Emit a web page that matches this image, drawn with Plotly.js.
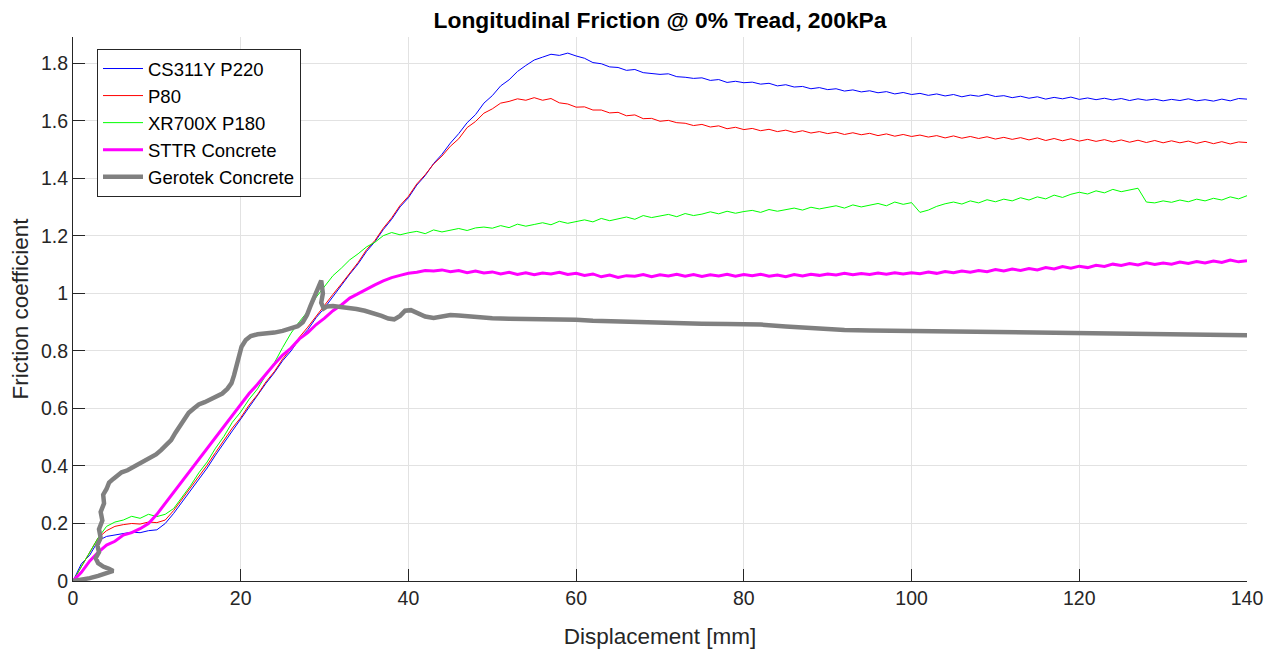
<!DOCTYPE html>
<html>
<head>
<meta charset="utf-8">
<script src="https://cdn.plot.ly/plotly-3.0.1.min.js"></script>
<style>html,body{margin:0;padding:0;background:#fff;}#chart{width:1276px;height:652px;}</style>
</head>
<body>
<div id="chart"></div>
<script>
// Displacement [mm] sample positions for the four lab-recorded series
const X_MM = [];
for (let i = 0; i <= 140; i++) X_MM.push(i);

const SERIES_NAMES = ["CS311Y P220", "P80", "XR700X P180", "STTR Concrete", "Gerotek Concrete"];

const CS311Y_P220 = [
  0, 0.06, 0.09, 0.14, 0.155, 0.16, 0.165, 0.17, 0.168, 0.175, 0.178,
  0.2, 0.235, 0.275, 0.312, 0.355, 0.393, 0.438, 0.478, 0.522, 0.563,
  0.605, 0.643, 0.687, 0.724, 0.766, 0.8, 0.842, 0.874, 0.916, 0.95,
  0.99, 1.028, 1.067, 1.103, 1.146, 1.18, 1.222, 1.258, 1.301, 1.333,
  1.377, 1.41, 1.452, 1.484, 1.523, 1.556, 1.594, 1.622, 1.662, 1.688,
  1.722, 1.743, 1.772, 1.793, 1.812, 1.822, 1.832, 1.828, 1.836, 1.826,
  1.818, 1.803, 1.799, 1.788, 1.786, 1.776, 1.779, 1.768, 1.766, 1.762,
  1.764, 1.754, 1.752, 1.748, 1.75, 1.741, 1.744, 1.734, 1.738, 1.733,
  1.735, 1.728, 1.731, 1.722, 1.726, 1.718, 1.72, 1.712, 1.716, 1.709,
  1.712, 1.704, 1.708, 1.701, 1.705, 1.698, 1.702, 1.694, 1.699, 1.692,
  1.696, 1.689, 1.694, 1.687, 1.692, 1.684, 1.69, 1.686, 1.693, 1.685,
  1.688, 1.681, 1.686, 1.679, 1.684, 1.676, 1.682, 1.677, 1.683, 1.675,
  1.68, 1.674, 1.679, 1.673, 1.678, 1.671, 1.677, 1.672, 1.676, 1.67,
  1.675, 1.671, 1.677, 1.67, 1.674, 1.669, 1.676, 1.67, 1.678, 1.676
];

const P80 = [
  0, 0.05, 0.1, 0.15, 0.175, 0.19, 0.196, 0.2, 0.198, 0.205, 0.203,
  0.212, 0.245, 0.285, 0.322, 0.366, 0.403, 0.447, 0.488, 0.532, 0.568,
  0.612, 0.648, 0.692, 0.728, 0.772, 0.808, 0.848, 0.883, 0.922, 0.958,
  0.997, 1.033, 1.072, 1.108, 1.152, 1.184, 1.227, 1.263, 1.306, 1.338,
  1.381, 1.413, 1.45, 1.478, 1.512, 1.538, 1.577, 1.598, 1.627, 1.642,
  1.662, 1.668, 1.677, 1.672, 1.681, 1.672, 1.678, 1.663, 1.659, 1.648,
  1.649, 1.638, 1.638, 1.628, 1.63, 1.618, 1.621, 1.608, 1.609, 1.599,
  1.602, 1.594, 1.592, 1.584, 1.588, 1.579, 1.583, 1.573, 1.578, 1.57,
  1.574, 1.566, 1.571, 1.563, 1.568, 1.56, 1.566, 1.558, 1.563, 1.556,
  1.561, 1.553, 1.559, 1.552, 1.557, 1.549, 1.555, 1.547, 1.553, 1.546,
  1.551, 1.544, 1.549, 1.541, 1.548, 1.54, 1.546, 1.539, 1.545, 1.537,
  1.543, 1.536, 1.542, 1.534, 1.541, 1.532, 1.539, 1.531, 1.538, 1.53,
  1.536, 1.529, 1.535, 1.527, 1.534, 1.526, 1.533, 1.525, 1.532, 1.524,
  1.531, 1.524, 1.53, 1.522, 1.529, 1.521, 1.528, 1.52, 1.527, 1.525
];

const XR700X_P180 = [
  0, 0.05, 0.1, 0.15, 0.19, 0.205, 0.212, 0.225, 0.218, 0.232, 0.224,
  0.232, 0.252, 0.292, 0.331, 0.376, 0.414, 0.462, 0.503, 0.552, 0.588,
  0.632, 0.668, 0.716, 0.758, 0.812, 0.862, 0.902, 0.938, 0.987, 1.024,
  1.062, 1.088, 1.117, 1.138, 1.162, 1.178, 1.201, 1.212, 1.204, 1.211,
  1.216, 1.208, 1.221, 1.214, 1.22, 1.226, 1.219, 1.228, 1.231, 1.227,
  1.236, 1.229, 1.241, 1.234, 1.24, 1.246, 1.239, 1.251, 1.244, 1.25,
  1.256, 1.249, 1.261, 1.253, 1.259, 1.266, 1.258, 1.271, 1.264, 1.27,
  1.275, 1.267, 1.278, 1.271, 1.276, 1.284, 1.277, 1.286, 1.279, 1.285,
  1.289, 1.282, 1.292, 1.286, 1.291, 1.297, 1.29, 1.3, 1.294, 1.299,
  1.305, 1.297, 1.308, 1.301, 1.307, 1.313, 1.305, 1.318, 1.31, 1.316,
  1.282, 1.29, 1.303, 1.312, 1.318, 1.311, 1.322, 1.315, 1.326, 1.319,
  1.328, 1.322, 1.333, 1.325, 1.336, 1.329, 1.342, 1.334, 1.345, 1.352,
  1.346, 1.357, 1.35, 1.362, 1.354, 1.36, 1.366, 1.318, 1.315, 1.322,
  1.317, 1.325, 1.319, 1.328, 1.322, 1.331, 1.325, 1.336, 1.329, 1.34
];

const STTR_CONCRETE = [
  0, 0.03, 0.07, 0.1, 0.125, 0.138, 0.16, 0.168, 0.182, 0.2, 0.232,
  0.27, 0.308, 0.347, 0.384, 0.422, 0.458, 0.497, 0.535, 0.574, 0.612,
  0.652, 0.684, 0.721, 0.754, 0.786, 0.81, 0.842, 0.864, 0.892, 0.914,
  0.94, 0.96, 0.984, 1.0, 1.016, 1.03, 1.044, 1.055, 1.063, 1.07,
  1.074, 1.08, 1.078, 1.082, 1.076, 1.08, 1.072, 1.078, 1.071, 1.075,
  1.068, 1.074, 1.066, 1.072, 1.065, 1.071, 1.068, 1.074, 1.066, 1.07,
  1.063, 1.068, 1.058, 1.064, 1.056, 1.062, 1.06, 1.066, 1.058, 1.065,
  1.061, 1.067, 1.06, 1.066, 1.059, 1.065, 1.061, 1.067, 1.06, 1.066,
  1.062, 1.067, 1.06, 1.064, 1.058, 1.066, 1.061, 1.067, 1.063, 1.068,
  1.064, 1.07, 1.065, 1.069, 1.066, 1.071, 1.067, 1.072, 1.068, 1.072,
  1.069, 1.075, 1.07, 1.076, 1.072, 1.078, 1.074, 1.08, 1.076, 1.083,
  1.078, 1.085, 1.08, 1.087, 1.082, 1.09, 1.085, 1.094, 1.088, 1.095,
  1.09, 1.098, 1.094, 1.102, 1.097, 1.104, 1.099, 1.107, 1.101, 1.106,
  1.102, 1.109, 1.104, 1.111, 1.106, 1.113, 1.108, 1.116, 1.11, 1.114
];

// Gerotek trace doubles back near the start, so it has its own x samples
const GEROTEK_X = [
  0, 1, 2, 3, 4, 4.8, 4.3, 3.6, 3.0, 2.7, 3.1, 2.9, 3.3, 3.1, 3.5, 3.3, 3.7, 3.6, 4.0, 4.3,
  4.8, 5.3, 5.8, 6.5, 7.2, 7.8, 8.5, 9.2, 9.9, 10.5, 11.1, 11.7, 12.2, 12.8, 13.3, 13.8, 14.4, 15.0, 15.7, 16.4,
  17.1, 17.8, 18.4, 18.9, 19.2, 19.5, 19.8, 20.1, 20.6, 21.2, 22.0, 23.0, 24.0, 25.0, 26.0, 26.8, 27.4, 27.9, 28.3, 28.7,
  29.1, 29.4, 29.6, 29.8, 29.6, 29.9, 30.3, 31.0, 31.8, 32.8, 33.8, 34.8, 35.8, 36.8, 37.6, 38.3, 39.0, 39.6, 40.3, 41.0,
  42.0, 43.0, 44.0, 45.0, 46.0, 47.0, 48.5, 50, 52, 55, 58, 60, 62, 65, 68, 70, 72, 75, 78, 80,
  82, 85, 88, 90, 92, 95, 98, 100, 105, 110, 115, 120, 125, 130, 135, 140
];
const GEROTEK_CONCRETE = [
  0, 0.004, 0.01, 0.018, 0.028, 0.035, 0.042, 0.05, 0.062, 0.08, 0.1, 0.125, 0.15, 0.18, 0.21, 0.24, 0.27, 0.3, 0.32, 0.342,
  0.355, 0.368, 0.378, 0.385, 0.396, 0.405, 0.415, 0.428, 0.44, 0.455, 0.47, 0.49, 0.515, 0.54, 0.565, 0.585, 0.6, 0.614, 0.622, 0.632,
  0.642, 0.652, 0.668, 0.688, 0.715, 0.75, 0.79, 0.815, 0.838, 0.852, 0.858, 0.86, 0.864, 0.87, 0.878, 0.886, 0.9, 0.925, 0.955, 0.985,
  1.015, 1.04, 1.045, 1.0, 0.968, 0.948, 0.955, 0.956, 0.954, 0.95, 0.946, 0.94, 0.932, 0.922, 0.913, 0.91, 0.922, 0.94, 0.942, 0.932,
  0.92, 0.915, 0.919, 0.925, 0.923, 0.92, 0.917, 0.914, 0.912, 0.912, 0.91, 0.909, 0.905, 0.902, 0.9, 0.899, 0.895, 0.895, 0.894, 0.893,
  0.892, 0.885, 0.879, 0.876, 0.873, 0.871, 0.87, 0.87, 0.868, 0.866, 0.863, 0.861, 0.86, 0.859, 0.858, 0.855
];

const X_TICKS = [0, 20, 40, 60, 80, 100, 120, 140];
const Y_TICKS = [0, 0.2, 0.4, 0.6, 0.8, 1, 1.2, 1.4, 1.6, 1.8];
const Y_TICK_LABELS = ["0", "0.2", "0.4", "0.6", "0.8", "1", "1.2", "1.4", "1.6", "1.8"];

const FONT = "Liberation Sans, Arial, Helvetica, sans-serif";
const INK = "#262626";

const traces = [
  {x: X_MM, y: CS311Y_P220, name: SERIES_NAMES[0], type: "scatter", mode: "lines", line: {color: "#0000ff", width: 1}},
  {x: X_MM, y: P80, name: SERIES_NAMES[1], type: "scatter", mode: "lines", line: {color: "#ff0000", width: 1}},
  {x: X_MM, y: XR700X_P180, name: SERIES_NAMES[2], type: "scatter", mode: "lines", line: {color: "#00ff00", width: 1}},
  {x: X_MM, y: STTR_CONCRETE, name: SERIES_NAMES[3], type: "scatter", mode: "lines", line: {color: "#ff00ff", width: 3}},
  {x: GEROTEK_X, y: GEROTEK_CONCRETE, name: SERIES_NAMES[4], type: "scatter", mode: "lines", line: {color: "#808080", width: 4.5}}
];

const layout = {
  width: 1276, height: 652,
  margin: {l: 73, r: 29, t: 37, b: 71},
  paper_bgcolor: "#ffffff", plot_bgcolor: "#ffffff",
  font: {family: FONT, color: INK},
  showlegend: true,
  title: {text: "<b>Longitudinal Friction @ 0% Tread, 200kPa</b>", font: {family: FONT, size: 22.8, color: "#000000"},
          x: 0.5, xref: "paper", y: 1 - 20 / 652, yref: "container", yanchor: "middle"},
  xaxis: {
    range: [0, 140], tickvals: X_TICKS, ticktext: X_TICKS.map(String),
    ticks: "inside", ticklen: 12, tickwidth: 1, tickcolor: INK,
    showline: true, linecolor: INK, linewidth: 1, mirror: false,
    showgrid: true, gridcolor: "#e2e2e2", gridwidth: 1, zeroline: false,
    tickfont: {family: FONT, size: 19.5, color: INK},
    title: {text: "Displacement [mm]", font: {family: FONT, size: 22.5, color: INK}, standoff: 19},
    automargin: false, fixedrange: true
  },
  yaxis: {
    range: [0, 1.892], tickvals: Y_TICKS, ticktext: Y_TICK_LABELS,
    ticks: "inside", ticklen: 12, tickwidth: 1, tickcolor: INK,
    showline: true, linecolor: INK, linewidth: 1, mirror: false,
    showgrid: true, gridcolor: "#e2e2e2", gridwidth: 1, zeroline: false,
    tickfont: {family: FONT, size: 19.5, color: INK},
    title: {text: "Friction coefficient", font: {family: FONT, size: 22.5, color: INK}, standoff: 6},
    automargin: false, fixedrange: true
  },
  legend: {
    x: (97 - 73) / 1174, y: (581 - 49) / 544, xanchor: "left", yanchor: "top",
    bgcolor: "#ffffff", bordercolor: INK, borderwidth: 1,
    font: {family: FONT, size: 18.5, color: "#000000"},
    itemwidth: 40, tracegroupgap: 0
  }
};

Plotly.newPlot("chart", traces, layout, {displayModeBar: false, staticPlot: true});
</script>
</body>
</html>
